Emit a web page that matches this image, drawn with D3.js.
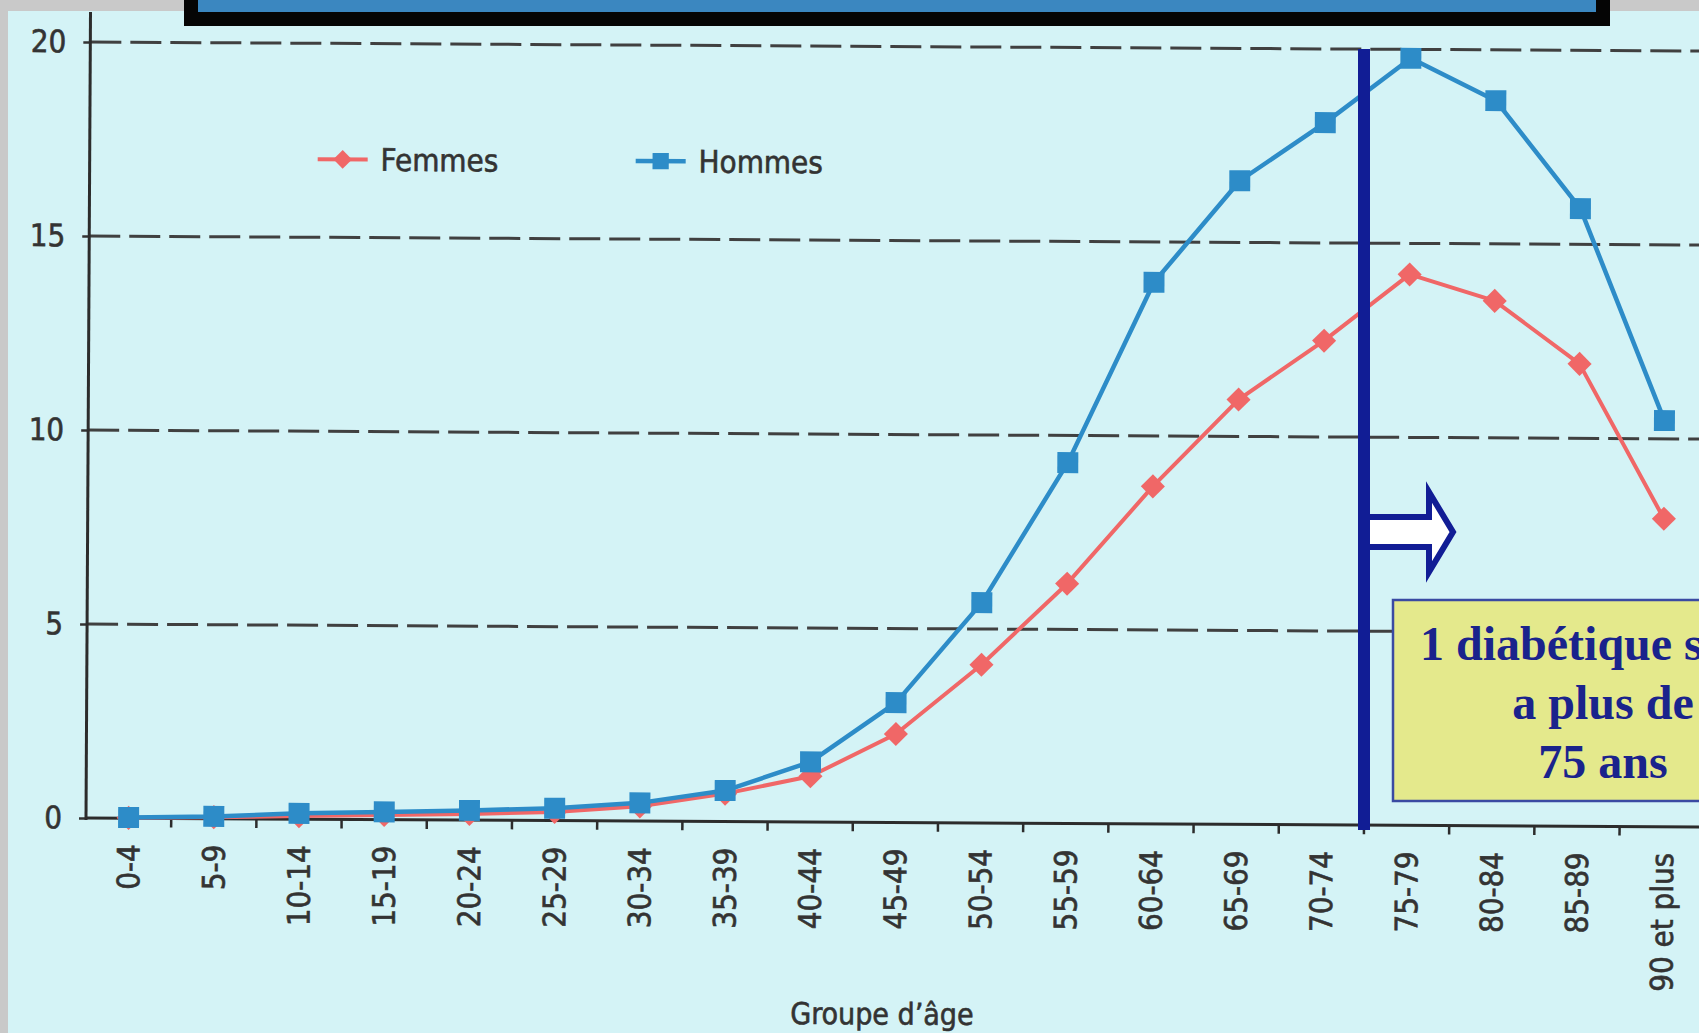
<!DOCTYPE html>
<html>
<head>
<meta charset="utf-8">
<script src="https://cdn.jsdelivr.net/npm/d3@7"></script>
<style>
  html, body { margin: 0; padding: 0; background: #c9c9c9; overflow: hidden; }
  svg { display: block; }
  .sans { font-family: "DejaVu Sans Condensed", "DejaVu Sans", sans-serif; font-stretch: condensed;
          stroke: #333333; stroke-width: 0.6px; }
  .serif { font-family: "Liberation Serif", "Times New Roman", serif; }
</style>
</head>
<body>
<svg id="chart" width="1699" height="1033"></svg>
<script>
// Prevalence of treated diabetes (%) by age group and sex
const ageGroups = ["0-4", "5-9", "10-14", "15-19", "20-24", "25-29", "30-34", "35-39",
  "40-44", "45-49", "50-54", "55-59", "60-64", "65-69", "70-74", "75-79",
  "80-84", "85-89", "90 et plus"];
const femmes = [0.01, 0.04, 0.08, 0.12, 0.16, 0.22, 0.38, 0.72, 1.18, 2.28, 4.08,
  6.18, 8.7, 10.95, 12.48, 14.2, 13.53, 11.92, 7.94];
const hommes = [0.02, 0.06, 0.15, 0.2, 0.25, 0.32, 0.47, 0.8, 1.55, 3.09, 5.68,
  9.3, 13.96, 16.59, 18.1, 19.77, 18.69, 15.92, 10.47];
const yTicks = [0, 5, 10, 15, 20];
const seriesNames = ["Femmes", "Hommes"];
const xTitle = "Groupe d’âge";
const thresholdGroup = "75-79";
const calloutLines = ["1 diabétique sur 4", "a plus de", "75 ans"];

const colors = { Femmes: "#f06767", Hommes: "#2d8cc8" };
const W = 1699, H = 1033;
const svg = d3.select("#chart");

// page frame and light cyan sheet
svg.append("rect").attr("width", W).attr("height", H).attr("fill", "#c9c9c9");
svg.append("rect").attr("x", 8).attr("y", 11).attr("width", W - 8).attr("height", H - 11)
  .attr("fill", "#d4f3f6");

// scales
const x = d3.scaleBand().domain(ageGroups).range([86, 86 + 19 * 85.2]).padding(0);
const y = d3.scaleLinear().domain([0, 20]).range([818, 42]);
const cx = d => x(d) + x.bandwidth() / 2;

// the scanned chart sits very slightly rotated
const g = svg.append("g").attr("transform", `rotate(0.32, ${x.range()[0]}, ${y(0)})`);

// dashed horizontal gridlines
g.append("g").selectAll("line").data(yTicks.filter(t => t > 0)).join("line")
  .attr("x1", x.range()[0]).attr("x2", W + 40)
  .attr("y1", d => y(d)).attr("y2", d => y(d))
  .attr("stroke", "#404040").attr("stroke-width", 3).attr("stroke-dasharray", "31 9");

// y axis
const yAxis = g.append("g").attr("transform", `translate(${x.range()[0]},0)`)
  .call(d3.axisLeft(y).tickValues(yTicks).tickSize(7).tickPadding(17));
yAxis.select(".domain").remove();
yAxis.selectAll(".tick line").attr("stroke", "#333").attr("stroke-width", 2.5);
yAxis.selectAll(".tick text").attr("class", "sans").attr("font-size", 31).attr("fill", "#333333");
g.append("line").attr("x1", x.range()[0]).attr("x2", x.range()[0])
  .attr("y1", 12).attr("y2", y(0) + 2)
  .attr("stroke", "#2c2c2c").attr("stroke-width", 3);

// x axis with labels rotated
const xAxis = g.append("g").attr("transform", `translate(0,${y(0)})`)
  .call(d3.axisBottom(x).tickSize(0));
xAxis.select(".domain").attr("stroke", "#2c2c2c").attr("stroke-width", 3)
  .attr("d", `M${x.range()[0]},0H${W + 40}`);
xAxis.selectAll(".tick text")
  .attr("class", "sans").attr("font-size", 31).attr("fill", "#333333")
  .attr("transform", "rotate(-90)")
  .attr("x", -26).attr("y", 0).attr("dy", "0.36em")
  .style("text-anchor", "end");
// tick marks between groups
g.append("g").selectAll("line").data(ageGroups).join("line")
  .attr("x1", d => x(d) + x.bandwidth()).attr("x2", d => x(d) + x.bandwidth())
  .attr("y1", y(0)).attr("y2", y(0) + 9)
  .attr("stroke", "#2c2c2c").attr("stroke-width", 2.5);

g.append("text").attr("class", "sans").attr("x", 883).attr("y", 1020)
  .attr("text-anchor", "middle").attr("font-size", 30).attr("fill", "#333333")
  .text(xTitle);

// series
const series = [
  { name: "Femmes", values: femmes, symbol: d3.symbolSquare, size: 290, rot: 45, width: 4 },
  { name: "Hommes", values: hommes, symbol: d3.symbolSquare, size: 440, rot: 0, width: 4.5 }
];
const line = d3.line().x((d, i) => cx(ageGroups[i])).y(d => y(d));

series.forEach(s => {
  const sg = g.append("g");
  sg.append("path").datum(s.values).attr("d", line)
    .attr("fill", "none").attr("stroke", colors[s.name])
    .attr("stroke-width", s.width).attr("stroke-linejoin", "round");
  sg.selectAll("path.pt").data(s.values).join("path").attr("class", "pt")
    .attr("d", d3.symbol(s.symbol, s.size)())
    .attr("transform", (d, i) => `translate(${cx(ageGroups[i])},${y(d)}) rotate(${s.rot})`)
    .attr("fill", colors[s.name]);
});

// legend
const legendPos = { Femmes: 314, Hommes: 632 };
series.forEach(s => {
  const lx = legendPos[s.name], ly = 158;
  const lg = g.append("g").attr("transform", `translate(${lx},${ly})`);
  lg.append("line").attr("x1", 0).attr("x2", 50).attr("y1", 0).attr("y2", 0)
    .attr("stroke", colors[s.name]).attr("stroke-width", s.width);
  lg.append("path").attr("d", d3.symbol(s.symbol, s.size * 0.6)())
    .attr("transform", `translate(25,0) rotate(${s.rot})`).attr("fill", colors[s.name]);
  lg.append("text").attr("class", "sans").attr("x", 63).attr("y", 0).attr("dy", "0.36em")
    .attr("font-size", 31).attr("fill", "#333333").text(s.name);
});

// title banner at the top
svg.append("rect").attr("x", 184).attr("y", -20).attr("width", 1426).attr("height", 46)
  .attr("fill", "#050505");
svg.append("rect").attr("x", 198).attr("y", -20).attr("width", 1398).attr("height", 32)
  .attr("fill", "#3b87c0");

// 75-year threshold line
const navy = "#111d95";
const tx = x(thresholdGroup);
svg.append("line").attr("x1", tx).attr("x2", tx).attr("y1", 49).attr("y2", 830)
  .attr("stroke", navy).attr("stroke-width", 12);

// arrow pointing to the older groups
const ay = 532;
svg.append("path")
  .attr("d", `M${tx + 6},${ay - 15} H${tx + 65} V${ay - 40} L${tx + 89},${ay} L${tx + 65},${ay + 40} V${ay + 15} H${tx + 6}`)
  .attr("fill", "#ffffff").attr("stroke", navy).attr("stroke-width", 6)
  .attr("stroke-linejoin", "miter");

// callout box
svg.append("rect").attr("x", 1393).attr("y", 600).attr("width", 400).attr("height", 201)
  .attr("fill", "#e4e98c").attr("stroke", "#3a4aa2").attr("stroke-width", 2.5);
svg.append("g").selectAll("text").data(calloutLines).join("text")
  .attr("class", "serif").attr("x", 1603).attr("y", (d, i) => 660 + i * 59)
  .attr("text-anchor", "middle").attr("font-size", 48).attr("font-weight", "bold")
  .attr("fill", "#1a238c").text(d => d);
</script>
</body>
</html>
